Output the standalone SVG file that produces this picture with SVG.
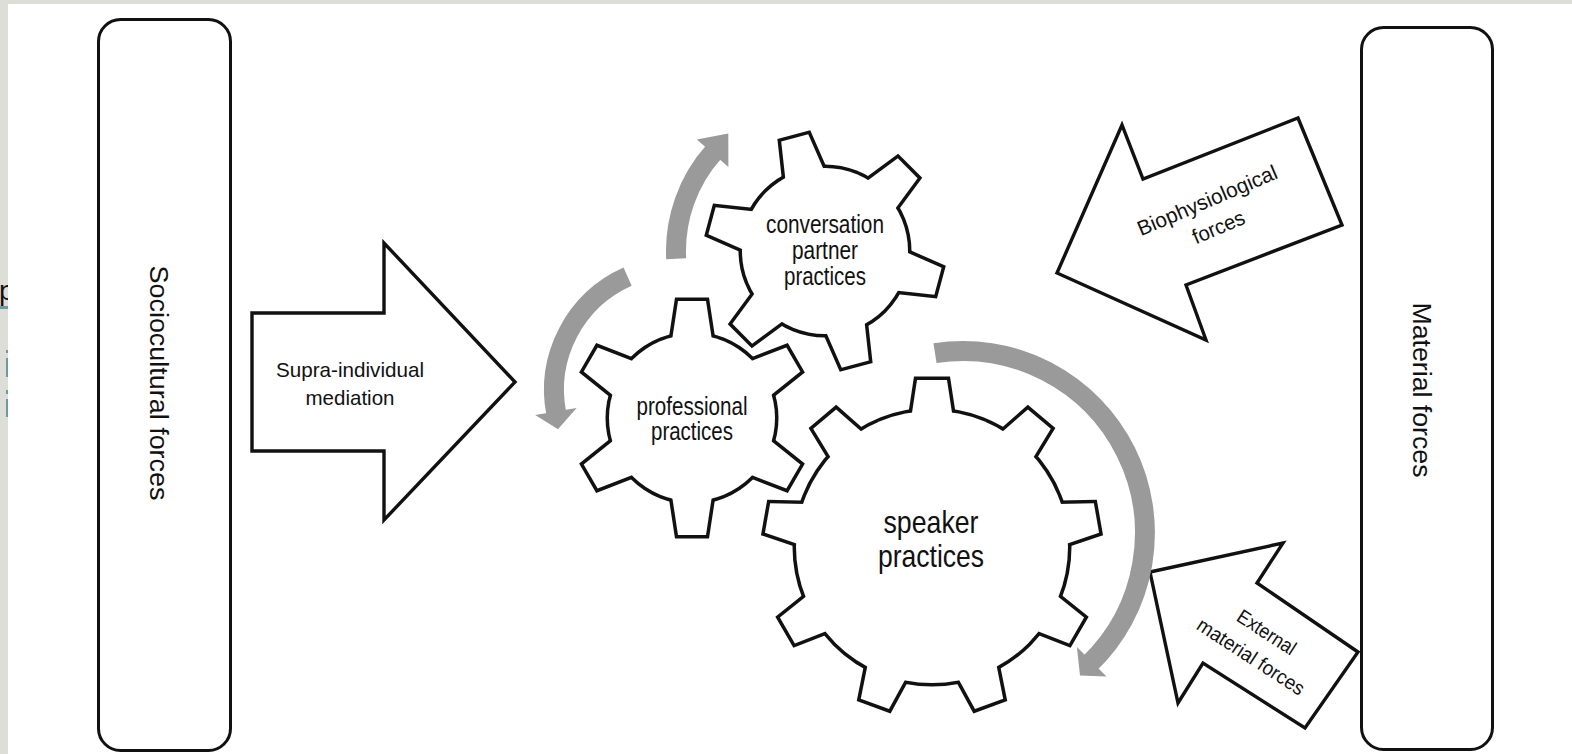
<svg xmlns="http://www.w3.org/2000/svg" xmlns:xlink="http://www.w3.org/1999/xlink" width="1572" height="754" viewBox="0 0 1572 754">
<style>
  text { font-family: "Liberation Sans", Arial, sans-serif; fill: #111; }
  .box { fill: #fff; stroke: #111; stroke-width: 3; }
  .arrow { fill: #fff; stroke: #111; stroke-width: 3.4; stroke-linejoin: miter; }
  .ge { fill: #111; stroke: #111; stroke-width: 7; stroke-linejoin: miter; stroke-miterlimit: 10; }
  .gf { fill: #fff; stroke: none; }
  .band { fill: none; stroke: #9a9a9a; stroke-width: 20; stroke-linecap: butt; }
  .head { fill: #9a9a9a; stroke: none; }
  .teal { fill: #6a9e9e; }
</style>
<defs>
  <polygon id="toothS" points="-23,-58 -14,-117 14,-117 23,-58"/>
  <polygon id="toothL" points="-24,-108 -15,-167 15,-167 24,-108"/>
  <clipPath id="stripClip"><rect x="0" y="0" width="8" height="754"/></clipPath>
</defs>

<!-- background -->
<rect x="0" y="0" width="1572" height="754" fill="#fff"/>
<rect x="0" y="0" width="8" height="754" fill="#deded8"/>
<rect x="0" y="0" width="1572" height="4" fill="#deded8"/>
<text x="-1" y="300" font-size="28" clip-path="url(#stripClip)" fill="#222">p</text>
<rect class="teal" x="0" y="306" width="8" height="3"/>
<rect class="teal" x="6" y="350" width="2" height="3"/>
<rect class="teal" x="6" y="358" width="2" height="19"/>
<rect class="teal" x="6" y="390" width="2" height="4"/>
<rect class="teal" x="6" y="399" width="2" height="18"/>

<!-- side boxes -->
<g id="sociocultural-forces">
  <rect class="box" x="98.5" y="19.5" width="132" height="731" rx="22"/>
  <text transform="translate(150,383) rotate(90)" text-anchor="middle" font-size="26" textLength="235" lengthAdjust="spacingAndGlyphs">Sociocultural forces</text>
</g>

<g id="material-forces">
  <rect class="box" x="1361.5" y="27.5" width="131" height="722" rx="22"/>
  <text transform="translate(1413,390) rotate(90)" text-anchor="middle" font-size="26" textLength="175" lengthAdjust="spacingAndGlyphs">Material forces</text>
</g>

<!-- block arrows -->
<g id="supra-individual-mediation">
  <polygon class="arrow" points="252,313 384,313 384,243 515,382 384,520 384,451 252,451"/>
  <text x="350" y="377" text-anchor="middle" font-size="21" textLength="148" lengthAdjust="spacingAndGlyphs">Supra-individual</text>
  <text x="350" y="405" text-anchor="middle" font-size="21" textLength="89" lengthAdjust="spacingAndGlyphs">mediation</text>
</g>

<g id="biophysiological-forces">
  <polygon class="arrow" points="1057,273 1122,125 1143,179 1298,118 1342,225 1186,285 1206,340"/>
  <g transform="translate(1210,207) rotate(-23)">
    <text x="0" y="0" text-anchor="middle" font-size="21" textLength="150" lengthAdjust="spacingAndGlyphs">Biophysiological</text>
    <text x="0" y="29" text-anchor="middle" font-size="21" textLength="55" lengthAdjust="spacingAndGlyphs">forces</text>
  </g>
</g>

<g id="external-material-forces">
  <polygon class="arrow" points="1150,572 1283,543 1257,583 1358,652 1305,728 1203,663 1178,703"/>
  <g transform="translate(1263,638) rotate(33)">
    <text x="0" y="0" text-anchor="middle" font-size="20" textLength="66" lengthAdjust="spacingAndGlyphs">External</text>
    <text x="0" y="29" text-anchor="middle" font-size="20" textLength="124" lengthAdjust="spacingAndGlyphs">material forces</text>
  </g>
</g>

<!-- curved gray arrows -->
<g id="connectors">
  <path class="band" d="M627.6,276.7 A124,124 0 0 0 556.3,413.7"/>
  <polygon class="head" points="535.2,415.1 576.6,407.9 558.0,429.2"/>
  <path class="band" d="M676.2,258.8 A149,149 0 0 1 714.3,151.3"/>
  <polygon class="head" points="696.8,139.4 728.4,167.0 728.3,133.5"/>
  <path class="band" d="M935,353.2 A182,182 0 0 1 1089.4,663.9"/>
  <polygon class="head" points="1076.9,646.9 1106.5,676.5 1080.0,675.4"/>
</g>

<!-- gears -->
<g id="conversation-partner-practices">
  <g transform="translate(825,251)">
    <g class="ge">
      <circle r="83"/>
      <use xlink:href="#toothS" href="#toothS" transform="rotate(45)"/>
      <use xlink:href="#toothS" href="#toothS" transform="rotate(105)"/>
      <use xlink:href="#toothS" href="#toothS" transform="rotate(165)"/>
      <use xlink:href="#toothS" href="#toothS" transform="rotate(225)"/>
      <use xlink:href="#toothS" href="#toothS" transform="rotate(285)"/>
      <use xlink:href="#toothS" href="#toothS" transform="rotate(345)"/>
    </g>
    <g class="gf">
      <circle r="83"/>
      <use xlink:href="#toothS" href="#toothS" transform="rotate(45)"/>
      <use xlink:href="#toothS" href="#toothS" transform="rotate(105)"/>
      <use xlink:href="#toothS" href="#toothS" transform="rotate(165)"/>
      <use xlink:href="#toothS" href="#toothS" transform="rotate(225)"/>
      <use xlink:href="#toothS" href="#toothS" transform="rotate(285)"/>
      <use xlink:href="#toothS" href="#toothS" transform="rotate(345)"/>
    </g>
  </g>
  <text x="825" y="233" text-anchor="middle" font-size="25" textLength="118" lengthAdjust="spacingAndGlyphs">conversation</text>
  <text x="825" y="259" text-anchor="middle" font-size="25" textLength="66" lengthAdjust="spacingAndGlyphs">partner</text>
  <text x="825" y="285" text-anchor="middle" font-size="25" textLength="82" lengthAdjust="spacingAndGlyphs">practices</text>
</g>

<g id="professional-practices">
  <g transform="translate(692,418)">
    <g class="ge">
      <circle r="83"/>
      <use xlink:href="#toothS" href="#toothS"/>
      <use xlink:href="#toothS" href="#toothS" transform="rotate(60)"/>
      <use xlink:href="#toothS" href="#toothS" transform="rotate(120)"/>
      <use xlink:href="#toothS" href="#toothS" transform="rotate(180)"/>
      <use xlink:href="#toothS" href="#toothS" transform="rotate(240)"/>
      <use xlink:href="#toothS" href="#toothS" transform="rotate(300)"/>
    </g>
    <g class="gf">
      <circle r="83"/>
      <use xlink:href="#toothS" href="#toothS"/>
      <use xlink:href="#toothS" href="#toothS" transform="rotate(60)"/>
      <use xlink:href="#toothS" href="#toothS" transform="rotate(120)"/>
      <use xlink:href="#toothS" href="#toothS" transform="rotate(180)"/>
      <use xlink:href="#toothS" href="#toothS" transform="rotate(240)"/>
      <use xlink:href="#toothS" href="#toothS" transform="rotate(300)"/>
    </g>
  </g>
  <text x="692" y="415" text-anchor="middle" font-size="25" textLength="111" lengthAdjust="spacingAndGlyphs">professional</text>
  <text x="692" y="440" text-anchor="middle" font-size="25" textLength="82" lengthAdjust="spacingAndGlyphs">practices</text>
</g>

<g id="speaker-practices">
  <g transform="translate(932,547)">
    <g class="ge">
      <circle r="136"/>
      <use xlink:href="#toothL" href="#toothL"/>
      <use xlink:href="#toothL" href="#toothL" transform="rotate(40)"/>
      <use xlink:href="#toothL" href="#toothL" transform="rotate(80)"/>
      <use xlink:href="#toothL" href="#toothL" transform="rotate(120)"/>
      <use xlink:href="#toothL" href="#toothL" transform="rotate(160)"/>
      <use xlink:href="#toothL" href="#toothL" transform="rotate(200)"/>
      <use xlink:href="#toothL" href="#toothL" transform="rotate(240)"/>
      <use xlink:href="#toothL" href="#toothL" transform="rotate(280)"/>
      <use xlink:href="#toothL" href="#toothL" transform="rotate(320)"/>
    </g>
    <g class="gf">
      <circle r="136"/>
      <use xlink:href="#toothL" href="#toothL"/>
      <use xlink:href="#toothL" href="#toothL" transform="rotate(40)"/>
      <use xlink:href="#toothL" href="#toothL" transform="rotate(80)"/>
      <use xlink:href="#toothL" href="#toothL" transform="rotate(120)"/>
      <use xlink:href="#toothL" href="#toothL" transform="rotate(160)"/>
      <use xlink:href="#toothL" href="#toothL" transform="rotate(200)"/>
      <use xlink:href="#toothL" href="#toothL" transform="rotate(240)"/>
      <use xlink:href="#toothL" href="#toothL" transform="rotate(280)"/>
      <use xlink:href="#toothL" href="#toothL" transform="rotate(320)"/>
    </g>
  </g>
  <text x="931" y="533" text-anchor="middle" font-size="32" textLength="95" lengthAdjust="spacingAndGlyphs">speaker</text>
  <text x="931" y="567" text-anchor="middle" font-size="32" textLength="106" lengthAdjust="spacingAndGlyphs">practices</text>
</g>
</svg>
